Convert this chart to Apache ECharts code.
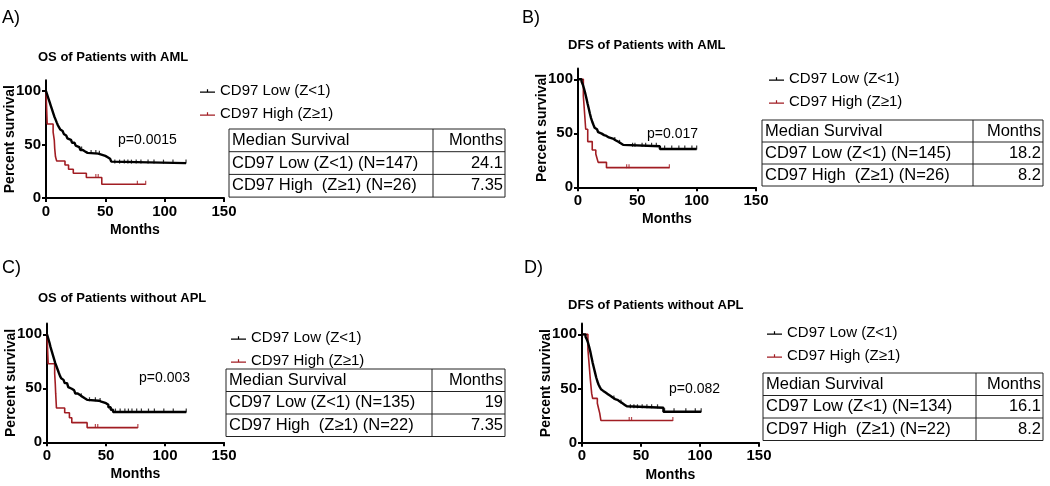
<!DOCTYPE html>
<html><head><meta charset="utf-8">
<script src="https://cdn.jsdelivr.net/npm/echarts@6/dist/echarts.min.js"></script>
<style>html,body{margin:0;padding:0;background:#fff}#c{width:1050px;height:486px}</style>
</head><body><div id="c"></div>
<script>
const FONT = '"Liberation Sans", Arial, sans-serif';
const LOW_NAME = 'CD97 Low (Z<1)';
const HIGH_NAME = 'CD97 High (Z\u22651)';
const BLACK = '#000000';
const RED = '#a11d23';

// ---------- Panel A: OS of Patients with AML ----------
const aLowCurve = [[0,100],[1,96.6],[2,93.2],[3,89.8],[4,86.4],[5,83],[6,79.6],[7,76.2],[8,73.5],[9,70.7],[10,68],[11,66],[12,64],[13,62.6],[14,61.2],[15,59.9],[16,58.5],[17,57.1],[18,55.8],[19,54.4],[21,53],[22,51.7],[24,50.3],[25,48.9],[26,47.6],[28,46.2],[29,44.9],[31,43.5],[33,42.2],[35,41.5],[44,40.8],[46,40.1],[48,39.4],[50,38.1],[52,36.7],[54,35.4],[55,34],[56,32.6],[118,32.6]];
const aLowCensor = [30,38,42,45,58,62,66,69,72,76,80,86,91,99,107,118];
const aHighCurve = [[0,100],[1,69.2],[6,61.5],[7,53.8],[7.35,46.2],[8,38.5],[9,34.6],[16,30.8],[19,26.9],[23,23.1],[34,19.2],[47,12.8],[84,12.8]];
const aHighCensor = [42,44,77,84];

// ---------- Panel B: DFS of Patients with AML ----------
const bLowCurve = [[0,100],[3,97.9],[4,95.2],[5,91.7],[6,87.6],[7,82.8],[8,77.9],[9,73.1],[10,68.3],[11,64.1],[12,60.7],[13,57.9],[14,55.2],[15,53.8],[16,52.4],[17,51],[18.2,49.7],[20,48.3],[22,47.6],[24,46.2],[26,45.5],[28,44.8],[30,43.4],[32,42.1],[34,40.7],[36,39.3],[38,38],[69,35.5],[100,35.5]];
const bLowCensor = [31,35,46,48,54,57,62,66,73,79,85,90,96,100];
const bHighCurve = [[0,100],[4.5,84.6],[5.5,69.2],[6.5,53.8],[8.2,42.3],[12,34.6],[15,30.8],[16,26.9],[17,23.1],[24,18.2],[77,18.2]];
const bHighCensor = [41,43,77];

// ---------- Panel C: OS of Patients without APL ----------
const cLowCurve = [[0,100],[1,96.3],[2,92.6],[3,88.1],[4,84.4],[5,80.7],[6,77],[7,73.3],[8,70.4],[9,67.4],[10,64.4],[11,61.5],[12,59.3],[13,57.8],[14,56.3],[15,54.8],[17,53.3],[18,51.1],[19,49.6],[21,48.1],[23,46.7],[24,45.2],[26,43.7],[28,42.2],[30,40.7],[32,39.3],[34,38.5],[44,37.7],[46,37],[48,36.2],[50,34.7],[52,32.4],[54,30.1],[56,28],[118,28]];
const cLowCensor = [29,36,41,45,58,62,66,69,72,76,80,86,91,99,107,118];
const cHighCurve = [[0,100],[1,72.7],[6.5,63.6],[7,54.5],[7.35,45.5],[8,31.8],[15,27.3],[19,22.7],[21,18.2],[34,13.6],[77,13.6]];
const cHighCensor = [41,43,77];

// ---------- Panel D: DFS of Patients without APL ----------
const dLowCurve = [[0,100],[3,97.8],[4,95.5],[5,92.5],[6,88.8],[7,84.3],[8,79.1],[9,73.9],[10,69.4],[11,64.9],[12,60.4],[13,56.7],[14,53.7],[15,51.5],[16.1,49.3],[17,47.8],[18,46.3],[20,44.8],[22,43.3],[24,41.8],[26,40.3],[28,39.6],[30,38.1],[32,36.6],[34,35.1],[36,33.6],[38,32.2],[69,28.6],[101,28.6]];
const dLowCensor = [27,33,41,44,47,51,55,59,64,70,78,88,96,101];
const dHighCurve = [[0,100],[5,86.4],[6,72.7],[7,59.1],[8.2,45.5],[9,40.9],[13,36.4],[14,31.8],[15,27.3],[16,20.5],[77,20.5]];
const dHighCensor = [40,42,77];

// ---------- Text ----------
const panelLabels = ['A)','B)','C)','D)'];
const panelTitles = ['OS of Patients with AML','DFS of Patients with AML','OS of Patients without APL','DFS of Patients without APL'];
const pValues = ['p=0.0015','p=0.017','p=0.003','p=0.082'];
const tableHeader = ['Median Survival','Months'];
const aTable = [['CD97 Low (Z<1) (N=147)','24.1'],['CD97 High  (Z\u22651) (N=26)','7.35']];
const bTable = [['CD97 Low (Z<1) (N=145)','18.2'],['CD97 High  (Z\u22651) (N=26)','8.2']];
const cTable = [['CD97 Low (Z<1) (N=135)','19'],['CD97 High  (Z\u22651) (N=22)','7.35']];
const dTable = [['CD97 Low (Z<1) (N=134)','16.1'],['CD97 High  (Z\u22651) (N=22)','8.2']];
const xTicks = [0,50,100,150];
const yTicks = [0,50,100];

// ---------- Layout (pixels) ----------
const grids = [
  {left:46, top:80.3, width:178, height:117.7},
  {left:578, top:68.5, width:178, height:118.8},
  {left:47, top:323.5, width:177, height:118.8},
  {left:582, top:323.5, width:177, height:119.2}
];
const labelPos = [[2,18],[522,18],[2,268],[524,268]];
const titlePos = [[38,57],[568,45],[38,298],[568,305]];
const pPos = [[118,140],[647,134],[139,378],[669,389]];
const legendPos = [[200,82],[769,70],[231,329],[767,324]];
const tablePos = [
  {left:229, top:129, div:433, right:505, rowH:22.7},
  {left:762, top:120, div:973, right:1043, rowH:22},
  {left:226, top:369, div:432, right:505, rowH:22.5},
  {left:763, top:373, div:976, right:1043, rowH:22.5}
];

const panels = [
  {low:aLowCurve, lowC:aLowCensor, high:aHighCurve, highC:aHighCensor, table:aTable},
  {low:bLowCurve, lowC:bLowCensor, high:bHighCurve, highC:bHighCensor, table:bTable},
  {low:cLowCurve, lowC:cLowCensor, high:cHighCurve, highC:cHighCensor, table:cTable},
  {low:dLowCurve, lowC:dLowCensor, high:dHighCurve, highC:dHighCensor, table:dTable}
];

function survAt(curve, t) {
  let v = curve[0][1];
  for (const p of curve) { if (p[0] <= t) v = p[1]; }
  return v;
}

const LEGEND_ICON = 'path://M0,6H20V7.6H0Z M9.2,3H10.8V6H9.2Z';

const option = {
  backgroundColor: '#fff',
  animation: false,
  grid: [], xAxis: [], yAxis: [], series: [], legend: [], graphic: []
};

panels.forEach((p, i) => {
  option.grid.push(Object.assign({containLabel:false, outerBoundsMode:'none'}, grids[i]));
  option.xAxis.push({
    gridIndex:i, type:'value', min:0, max:150, interval:50,
    axisLine:{show:true, onZero:false, lineStyle:{color:'#000', width:2}},
    axisTick:{show:true, length:4, lineStyle:{color:'#000', width:2}, customValues:xTicks},
    axisLabel:{show:true, fontSize:15, fontWeight:'bold', color:'#000', margin:6, fontFamily:FONT, customValues:xTicks},
    splitLine:{show:false},
    name:'Months', nameLocation:'middle', nameGap:25,
    nameTextStyle:{fontSize:14, fontWeight:'bold', color:'#000', fontFamily:FONT}
  });
  option.yAxis.push({
    gridIndex:i, type:'value', min:0, max:110, interval:50,
    axisLine:{show:true, onZero:false, lineStyle:{color:'#000', width:2}},
    axisTick:{show:true, length:4, lineStyle:{color:'#000', width:2}, customValues:yTicks},
    axisLabel:{show:true, fontSize:15, fontWeight:'bold', color:'#000', margin:5, fontFamily:FONT, customValues:yTicks},
    splitLine:{show:false},
    name:'Percent survival', nameLocation:'middle', nameGap:29, nameRotate:90, nameMoveOverlap:false,
    nameTextStyle:{fontSize:14, fontWeight:'bold', color:'#000', fontFamily:FONT}
  });
  option.series.push({
    name:LOW_NAME, type:'line', xAxisIndex:i, yAxisIndex:i, step:'end', data:p.low,
    showSymbol:false, symbol:'none', lineStyle:{color:BLACK, width:2.4}, itemStyle:{color:BLACK}, z:3
  });
  option.series.push({
    name:HIGH_NAME, type:'line', xAxisIndex:i, yAxisIndex:i, step:'end', data:p.high,
    showSymbol:false, symbol:'none', lineStyle:{color:RED, width:1.6}, itemStyle:{color:RED}, z:2
  });
  option.series.push({
    name:'censor-low-'+i, type:'scatter', xAxisIndex:i, yAxisIndex:i,
    data:p.lowC.map(t => [t, survAt(p.low, t)]),
    symbol:'rect', symbolSize:[1.2,4], symbolOffset:[0,-1.5], itemStyle:{color:BLACK}, z:3
  });
  option.series.push({
    name:'censor-high-'+i, type:'scatter', xAxisIndex:i, yAxisIndex:i,
    data:p.highC.map(t => [t, survAt(p.high, t)]),
    symbol:'rect', symbolSize:[1.2,4], symbolOffset:[0,-1.5], itemStyle:{color:RED}, z:2
  });
  option.legend.push({
    data:[LOW_NAME, HIGH_NAME], orient:'vertical', left:legendPos[i][0], top:legendPos[i][1],
    icon:LEGEND_ICON, itemWidth:15, itemHeight:5, itemGap:5, padding:0,
    selectedMode:false,
    textStyle:{fontSize:15, color:'#000', fontFamily:FONT, lineHeight:18}
  });

  option.graphic.push({type:'text', x:labelPos[i][0], y:labelPos[i][1],
    style:{text:panelLabels[i], fontSize:18, fontFamily:FONT, fill:'#000', verticalAlign:'middle', align:'left'}});
  option.graphic.push({type:'text', x:titlePos[i][0], y:titlePos[i][1],
    style:{text:panelTitles[i], fontSize:13, fontWeight:'bold', fontFamily:FONT, fill:'#000', verticalAlign:'middle', align:'left'}});
  option.graphic.push({type:'text', x:pPos[i][0], y:pPos[i][1],
    style:{text:pValues[i], fontSize:14, fontFamily:FONT, fill:'#000', verticalAlign:'middle', align:'left'}});

  const tp = tablePos[i];
  const rows = [tableHeader].concat(p.table);
  const h = tp.rowH * rows.length;
  const stroke = {stroke:'#222', lineWidth:1, fill:null};
  option.graphic.push({type:'rect', shape:{x:tp.left, y:tp.top, width:tp.right-tp.left, height:h}, style:{stroke:'#222', lineWidth:1, fill:'none'}});
  option.graphic.push({type:'line', shape:{x1:tp.div, y1:tp.top, x2:tp.div, y2:tp.top+h}, style:stroke});
  for (let r = 1; r < rows.length; r++) {
    const yy = tp.top + tp.rowH * r;
    option.graphic.push({type:'line', shape:{x1:tp.left, y1:yy, x2:tp.right, y2:yy}, style:stroke});
  }
  rows.forEach((row, r) => {
    const cy = tp.top + tp.rowH * (r + 0.5);
    option.graphic.push({type:'text', x:tp.left+3, y:cy,
      style:{text:row[0], fontSize:16.5, fontFamily:FONT, fill:'#000', verticalAlign:'middle', align:'left'}});
    option.graphic.push({type:'text', x:tp.right-2, y:cy,
      style:{text:row[1], fontSize:16.5, fontFamily:FONT, fill:'#000', verticalAlign:'middle', align:'right'}});
  });
});

const chart = echarts.init(document.getElementById('c'), null, {renderer:'canvas'});
chart.setOption(option);
</script>
</body></html>
